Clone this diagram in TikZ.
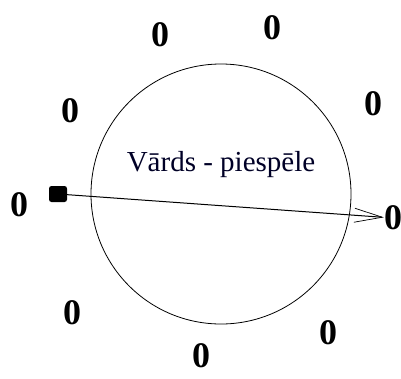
\documentclass[tikz,border=0pt]{standalone}
\usepackage{fontspec}
\setmainfont{Liberation Serif}
\usetikzlibrary{arrows.meta}
\tikzset{
  player/.style={font=\fontsize{36}{38}\selectfont\bfseries, inner sep=0pt},
  pass/.style={line width=1pt, -{Straight Barb[length=28pt,width=14pt,line width=0.7pt]}}
}
\begin{document}
\begin{tikzpicture}[x=1pt,y=-1pt]
  \useasboundingbox (0,0) rectangle (401,378);
  \node[draw, circle, line width=0.8pt, minimum size=260pt, inner sep=0pt] (field) at (221,194) {};
  \node[font=\fontsize{29}{32}\selectfont, text=black!85!blue] (label) at (221,165) {Vārds - piespēle};
  \foreach \x/\y [count=\i] in {160/35, 272/28, 70/111, 373/104, 19/205, 393/218, 72/313, 328/333, 201/356}{
    \node[player] (p\i) at (\x,\y) {0};
  }
  \node[fill, rectangle, rounded corners=2.5pt, minimum width=18pt, minimum height=16pt, inner sep=0pt] (ball) at (58,194) {};
  \draw[pass] (ball) -- (p6);
\end{tikzpicture}
\end{document}
